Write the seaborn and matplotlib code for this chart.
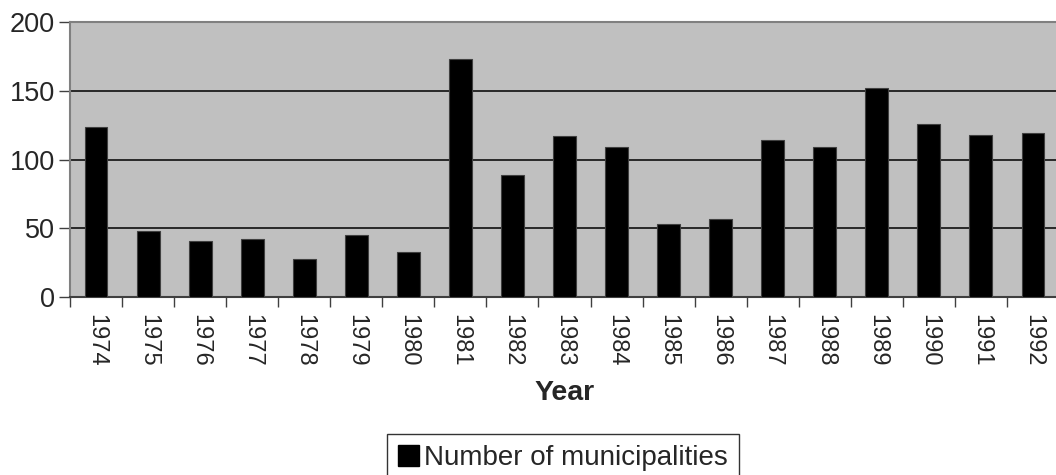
import numpy as np
import pandas as pd
import matplotlib
matplotlib.use("Agg")
import matplotlib.pyplot as plt
import seaborn as sns
from matplotlib.patches import Patch

years  = [1974, 1975, 1976, 1977, 1978, 1979, 1980, 1981, 1982, 1983,
          1984, 1985, 1986, 1987, 1988, 1989, 1990, 1991, 1992]
counts = [124, 48, 41, 42, 28, 45, 33, 173, 89, 117,
          109, 53, 57, 114, 109, 152, 126, 118, 119]
yticks = [0, 50, 100, 150, 200]
SERIES = "Number of municipalities"

df = pd.DataFrame({"Year": [str(y) for y in years], "count": counts})

sns.set_style("white")
plt.rcParams["font.family"] = ["Liberation Sans", "DejaVu Sans"]

W, H = 1056, 475
fig = plt.figure(figsize=(W / 100, H / 100), dpi=100)
ax = fig.add_axes([70 / W, 1 - 297 / H, 989 / W, 275 / H])
ax.set_facecolor("#c0c0c0")

sns.barplot(data=df, x="Year", y="count", color="black", width=0.44,
            edgecolor="#404040", linewidth=0.8, saturation=1, ax=ax, zorder=3)

ax.set_ylim(0, 200)
ax.set_xlim(-0.5, len(years) - 0.5)
ax.set_yticks(yticks)
ax.yaxis.grid(True, color="black", linewidth=1.1, zorder=1)
ax.set_axisbelow(True)
ax.tick_params(axis="y", labelsize=19.5, length=8, width=1, color="#404040",
               direction="out", left=True, pad=3)

# ticks between categories, labels at category centres
ax.set_xticks(np.arange(-0.5, len(years), 1.0))
ax.set_xticklabels([])
ax.set_xticks(np.arange(len(years)), minor=True)
ax.set_xticklabels(df["Year"], minor=True, rotation=270, fontsize=17)
ax.tick_params(axis="x", which="major", length=7, width=1, color="#404040",
               direction="out", bottom=True)
ax.tick_params(axis="x", which="minor", length=0, pad=12)

ax.set_ylabel("")
ax.set_xlabel("Year", fontsize=20.5, fontweight="bold", labelpad=10)

for side in ["top", "left", "right"]:
    ax.spines[side].set_color("#808080")
    ax.spines[side].set_linewidth(1.5)
ax.spines["bottom"].set_color("#404040")
ax.spines["bottom"].set_linewidth(1.5)

leg = fig.legend(handles=[Patch(facecolor="black", edgecolor="black", label=SERIES)],
                 loc="upper center", bbox_to_anchor=(563 / W, 1 - 434 / H),
                 fontsize=20, frameon=True, fancybox=False, handlelength=0.75,
                 handleheight=0.75, handletextpad=0.2, borderpad=0.4,
                 borderaxespad=0)
leg.get_frame().set_edgecolor("black")
leg.get_frame().set_linewidth(1)

fig.savefig("out.png", dpi=100)
